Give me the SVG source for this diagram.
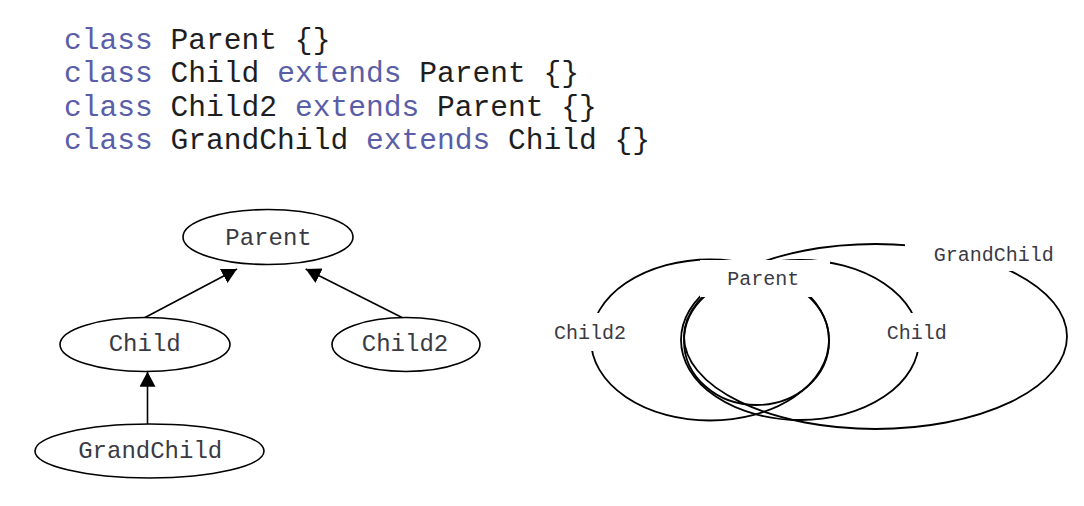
<svg xmlns="http://www.w3.org/2000/svg" width="1084" height="506" viewBox="0 0 1084 506">
  <style>
    .code { font-family: "Liberation Mono", "Courier New", monospace; font-size: 29.6px; fill: #1e1e1e; }
    .kw { fill: #5a5ea8; }
    .node { fill: none; stroke: #000; stroke-width: 1.6; }
    .lbl { font-family: "Liberation Mono", "Courier New", monospace; font-size: 24px; fill: #3a3a44; text-anchor: middle; }
    .edge { stroke: #000; stroke-width: 1.6; fill: none; }
    .venn { fill: none; stroke: #000; stroke-width: 1.8; }
    .mask { fill: #fff; stroke: none; }
    .vlbl { font-family: "Liberation Mono", "Courier New", monospace; font-size: 20px; fill: #3a3a44; text-anchor: middle; }
  </style>
  <defs>
    <marker id="arrow" viewBox="0 0 15 16" refX="15" refY="8" markerWidth="15" markerHeight="16" markerUnits="userSpaceOnUse" orient="auto">
      <path d="M0,0 L15,8 L0,16 z" fill="#000"/>
    </marker>
  </defs>
  <rect width="1084" height="506" fill="#fff"/>

  <g id="code">
    <text class="code" x="64" y="48.5" xml:space="preserve"><tspan class="kw">class</tspan> Parent {}</text>
    <text class="code" x="64" y="82" xml:space="preserve"><tspan class="kw">class</tspan> Child <tspan class="kw">extends</tspan> Parent {}</text>
    <text class="code" x="64" y="115.5" xml:space="preserve"><tspan class="kw">class</tspan> Child2 <tspan class="kw">extends</tspan> Parent {}</text>
    <text class="code" x="64" y="149" xml:space="preserve"><tspan class="kw">class</tspan> GrandChild <tspan class="kw">extends</tspan> Child {}</text>
  </g>

  <g id="connectors">
    <line class="edge" x1="145" y1="317.5" x2="237" y2="269" marker-end="url(#arrow)"/>
    <line class="edge" x1="402" y1="317.5" x2="305.7" y2="269" marker-end="url(#arrow)"/>
    <line class="edge" x1="147.5" y1="424" x2="147.5" y2="371.7" marker-end="url(#arrow)"/>
  </g>

  <g id="node-parent">
    <ellipse class="node" cx="268" cy="237" rx="85" ry="27.5"/>
    <text class="lbl" x="268.5" y="244.5">Parent</text>
  </g>
  <g id="node-child">
    <ellipse class="node" cx="145" cy="344.5" rx="85" ry="27"/>
    <text class="lbl" x="144.7" y="350.5">Child</text>
  </g>
  <g id="node-child2">
    <ellipse class="node" cx="406" cy="344.5" rx="74" ry="27"/>
    <text class="lbl" x="405" y="350.5">Child2</text>
  </g>
  <g id="node-grandchild">
    <ellipse class="node" cx="149.5" cy="451" rx="114.5" ry="27"/>
    <text class="lbl" x="150.2" y="457.5">GrandChild</text>
  </g>

  <g id="venn-shapes">
    <ellipse class="venn" cx="710" cy="340" rx="119" ry="80.5"/>
    <ellipse class="venn" cx="800" cy="340" rx="119" ry="80"/>
    <ellipse class="venn" cx="756.5" cy="341" rx="72.5" ry="64"/>
    <ellipse class="venn" cx="875.5" cy="336.5" rx="191.5" ry="92.5"/>
  </g>
  <g id="venn-labels">
    <rect class="mask" x="700" y="260" width="130" height="37"/>
    <text class="vlbl" x="763.3" y="284.5">Parent</text>
    <rect class="mask" x="552" y="313" width="78" height="38"/>
    <text class="vlbl" x="590" y="338.5">Child2</text>
    <rect class="mask" x="880" y="313" width="75" height="39"/>
    <text class="vlbl" x="916.7" y="338.5">Child</text>
    <rect class="mask" x="905" y="234" width="178" height="37"/>
    <text class="vlbl" x="993.8" y="260.7">GrandChild</text>
  </g>
</svg>
